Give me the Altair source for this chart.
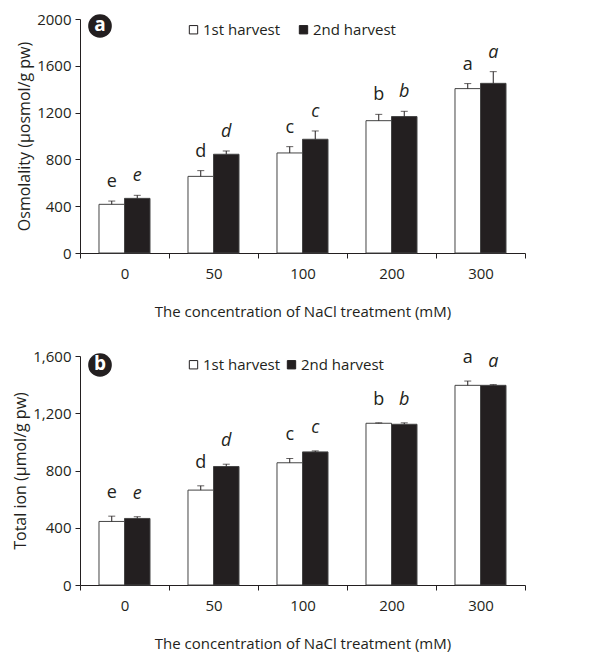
import altair as alt
import pandas as pd

conc = ["0", "50", "100", "200", "300"]
series = ["1st harvest", "2nd harvest"]

osm_1st = [416, 655, 855, 1131, 1405]
osm_1st_err = [28, 49, 54, 54, 43]
osm_2nd = [467, 844, 972, 1166, 1450]
osm_2nd_err = [26, 28, 71, 45, 100]

ion_1st = [444, 663, 854, 1130, 1395]
ion_1st_err = [37, 30, 30, 3, 30]
ion_2nd = [465, 828, 930, 1123, 1395]
ion_2nd_err = [12, 16, 7, 10, 5]

letters = ["e", "d", "c", "b", "a"]

INK = "#231f20"
FONT = "Open Sans"


def panel(v1, e1, v2, e2, ymax, yvals, yfmt, ytitle, tag, height, letter_dy, legend_y, tag_y, colpad):
    rows = []
    for i, c in enumerate(conc):
        rows.append(dict(conc=c, series=series[0], value=v1[i], top=v1[i] + e1[i], letter=letters[i]))
        rows.append(dict(conc=c, series=series[1], value=v2[i], top=v2[i] + e2[i], letter=letters[i]))
    df = pd.DataFrame(rows)

    x = alt.X("conc:N", sort=conc,
              scale=alt.Scale(paddingInner=0, paddingOuter=0),
              axis=alt.Axis(title="The concentration of NaCl treatment (mM)", labelAngle=0,
                            tickBand="extent", tickSize=5, labelPadding=8, titlePadding=23,
                            titleFontSize=15, domainColor=INK, tickColor=INK))
    xo = alt.XOffset("series:N", sort=series, scale=alt.Scale(paddingInner=0, paddingOuter=0.745))
    yscale = alt.Scale(domain=[0, ymax], nice=False)
    base = alt.Chart(df).encode(x=x, xOffset=xo)

    bars = base.mark_bar(stroke="#444", strokeWidth=1).encode(
        y=alt.Y("value:Q", scale=yscale,
                axis=alt.Axis(title=ytitle, values=yvals, format=yfmt, grid=False, tickSize=5,
                              labelPadding=4, titlePadding=4, titleFontSize=16,
                              domainColor=INK, tickColor=INK)),
        color=alt.Color("series:N", sort=series,
                        scale=alt.Scale(domain=series, range=["#ffffff", INK]),
                        legend=alt.Legend(title=None, orient="none", legendX=106, legendY=legend_y,
                                          direction="horizontal", symbolType="square", symbolSize=70,
                                          symbolStrokeColor=INK, symbolStrokeWidth=1,
                                          labelFontSize=15, labelOffset=2, columnPadding=colpad,
                                          labelColor=INK)),
    )
    rule = base.mark_rule(color=INK, strokeWidth=1).encode(y=alt.Y("value:Q", scale=yscale), y2="top:Q")
    cap = base.mark_tick(color=INK, size=7, thickness=1, orient="horizontal").encode(
        y=alt.Y("top:Q", scale=yscale))
    t1 = base.transform_filter(alt.datum.series == series[0]).mark_text(
        baseline="middle", dy=-letter_dy, fontSize=18, color=INK).encode(
        y=alt.Y("top:Q", scale=yscale), text="letter:N")
    t2 = base.transform_filter(alt.datum.series == series[1]).mark_text(
        baseline="middle", dy=-letter_dy, fontSize=18, fontStyle="italic", color=INK).encode(
        y=alt.Y("top:Q", scale=yscale), text="letter:N")

    tagdf = pd.DataFrame({"t": [tag]})
    circ = alt.Chart(tagdf).mark_circle(size=560, color=INK, opacity=1).encode(
        x=alt.value(20), y=alt.value(tag_y))
    tagtext = alt.Chart(tagdf).mark_text(color="white", fontSize=19, fontWeight="bold",
                                         baseline="middle", dy=-1).encode(
        x=alt.value(20), y=alt.value(tag_y), text="t:N")

    return alt.layer(bars, rule, cap, t1, t2, circ, tagtext).properties(width=445, height=height)


pa = panel(osm_1st, osm_1st_err, osm_2nd, osm_2nd_err, 2000, [0, 400, 800, 1200, 1600, 2000], "d",
           "Osmolality (µosmol/g pw)", "a", 234, 19, 3, 7, 15)
pb = panel(ion_1st, ion_1st_err, ion_2nd, ion_2nd_err, 1600, [0, 400, 800, 1200, 1600], ",d",
           "Total ion (µmol/g pw)", "b", 229, 23, 1, 9, 3)

chart = alt.vconcat(pa, pb, spacing=30).resolve_scale(color="independent").resolve_legend(
    color="independent").properties(
    padding={"left": 4, "top": 4, "right": 5, "bottom": 5}
).configure(font=FONT).configure_view(stroke=None).configure_axis(
    labelFontSize=15, labelColor=INK, titleColor=INK, titleFontWeight="normal"
)

chart.save("out.html", embed_options={"renderer": "svg", "actions": False})
